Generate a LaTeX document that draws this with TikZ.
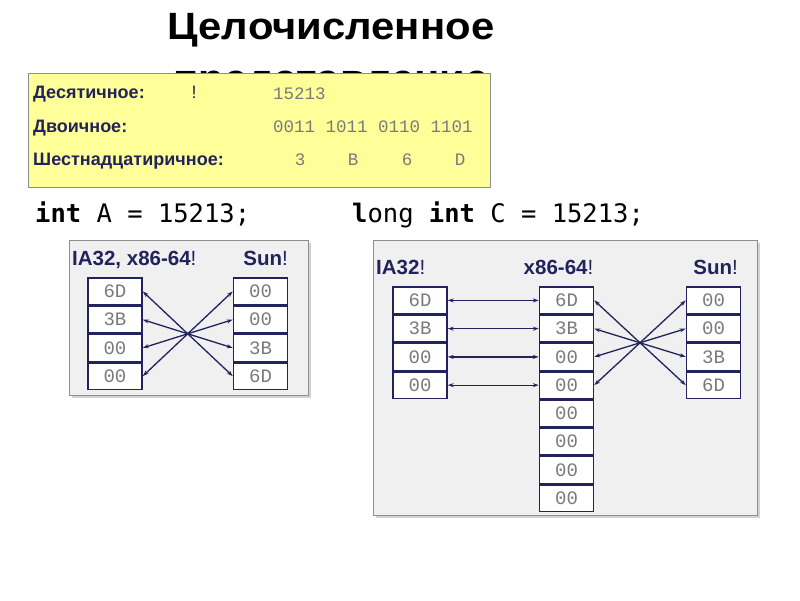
\documentclass[tikz,border=0pt]{standalone}
\usepackage{fontspec}
\setmainfont{Liberation Sans}
\newfontfamily\cellfont{Liberation Mono}
\newfontfamily\codefont{DejaVu Sans Mono}
\usetikzlibrary{positioning,shadows,arrows.meta}
\definecolor{navy}{HTML}{22225C}
\definecolor{cellgray}{HTML}{7A7A7A}
\definecolor{panelfill}{HTML}{F0F0F0}
\definecolor{panelgray}{HTML}{8E8E8E}
\definecolor{notepad}{HTML}{FFFF99}

\begin{document}
\begin{tikzpicture}[x=1pt,y=-1pt,>={Stealth[length=6pt,width=4pt]},
	cell/.style={draw=navy, line width=1.5pt, fill=white, minimum width=54pt, minimum height=26.75pt, inner sep=0pt, font=\fontsize{19}{19}\cellfont, text=cellgray},
	panel/.style={draw=panelgray, fill=panelfill, line width=0.8pt, drop shadow={shadow xshift=3pt, shadow yshift=-3pt, opacity=0.35}},
	arch/.style={font=\fontsize{20.5}{20.5}\selectfont, text=navy, inner sep=0pt, anchor=base},
	base/.style={font=\fontsize{18}{18}\bfseries, text=navy, inner sep=0pt, anchor=base west},
	digits/.style={font=\fontsize{17.5}{17.5}\cellfont, text=cellgray, inner sep=0pt, anchor=base},
	code/.style={font=\fontsize{25.5}{25.5}\codefont, inner sep=0pt, anchor=base west},
	swap/.style={<->, navy, line width=1.3pt}]
	\useasboundingbox (0,0) rectangle (800,600);
	% title, partly hidden by the yellow box
	\node (title) at (331,13) [anchor=north, inner sep=0pt, align=center, xscale=1.1, font=\fontsize{38}{52}\bfseries] {Целочисленное\\представление};

	% number in three bases
	\draw [panelgray, fill=notepad, line width=0.8pt] (28,73) rectangle (490,187);
	\node (dec) at (33,98) [base] {Десятичное:};
	\node (bin) at (33,132) [base] {Двоичное:};
	\node (hex) at (33,165) [base] {Шестнадцатиричное:};
	\node (bang) at (194,98) [digits, font=\fontsize{18}{18}\selectfont, text=navy] {!};
	\node (decv) at (273,99) [digits, anchor=base west] {15213};
	\node (binv) at (273,132) [digits, anchor=base west] {0011 1011 0110 1101};
	\node (hex3) at (300,165) [digits] {3};
	\node (hexB) at (353,165) [digits] {B};
	\node (hex6) at (407,165) [digits] {6};
	\node (hexD) at (460,165) [digits] {D};

	% int A
	\node (intA) at (35,222) [code] {\textbf{int} A = 15213;};
	\draw [panel] (69,240) rectangle (308,395);
	\node (ia) at (72,265.5) [arch, anchor=base west] {\textbf{IA32, x86-64}!};
	\node (suna) at (288,265.5) [arch, anchor=base east] {\textbf{Sun}!};
	\node (la0) at (115,291.4) [cell] {6D};
	\node (la1) [cell, below=0pt of la0] {3B};
	\node (la2) [cell, below=0pt of la1] {00};
	\node (la3) [cell, below=0pt of la2] {00};
	\node (ra0) at (260.5,291.4) [cell] {00};
	\node (ra1) [cell, below=0pt of ra0] {00};
	\node (ra2) [cell, below=0pt of ra1] {3B};
	\node (ra3) [cell, below=0pt of ra2] {6D};
	\foreach \i/\j in {0/3,1/2,2/1,3/0}
		\draw [swap] (la\i.east) -- (ra\j.west);

	% long int C
	\node (longC) at (352,222) [code] {\textbf{l}ong \textbf{int} C = 15213;};
	\draw [panel] (373,240) rectangle (757,515);
	\node (ic) at (376,274.5) [arch, anchor=base west] {\textbf{IA32}!};
	\node (xc) at (558.5,274.5) [arch] {\textbf{x86-64}!};
	\node (sunc) at (738,274.5) [arch, anchor=base east] {\textbf{Sun}!};
	\node (lc0) at (420,300.4) [cell] {6D};
	\node (lc1) [cell, below=0pt of lc0] {3B};
	\node (lc2) [cell, below=0pt of lc1] {00};
	\node (lc3) [cell, below=0pt of lc2] {00};
	\node (mc0) at (566.5,300.4) [cell] {6D};
	\node (mc1) [cell, below=0pt of mc0] {3B};
	\node (mc2) [cell, below=0pt of mc1] {00};
	\node (mc3) [cell, below=0pt of mc2] {00};
	\node (mc4) [cell, below=0pt of mc3] {00};
	\node (mc5) [cell, below=0pt of mc4] {00};
	\node (mc6) [cell, below=0pt of mc5] {00};
	\node (mc7) [cell, below=0pt of mc6] {00};
	\node (rc0) at (713.5,300.4) [cell] {00};
	\node (rc1) [cell, below=0pt of rc0] {00};
	\node (rc2) [cell, below=0pt of rc1] {3B};
	\node (rc3) [cell, below=0pt of rc2] {6D};
	\foreach \i/\j in {0/3,1/2,2/1,3/0} {
		\draw [swap] (lc\i.east) -- (mc\i.west);
		\draw [swap] (mc\i.east) -- (rc\j.west);
	}
\end{tikzpicture}
\end{document}
